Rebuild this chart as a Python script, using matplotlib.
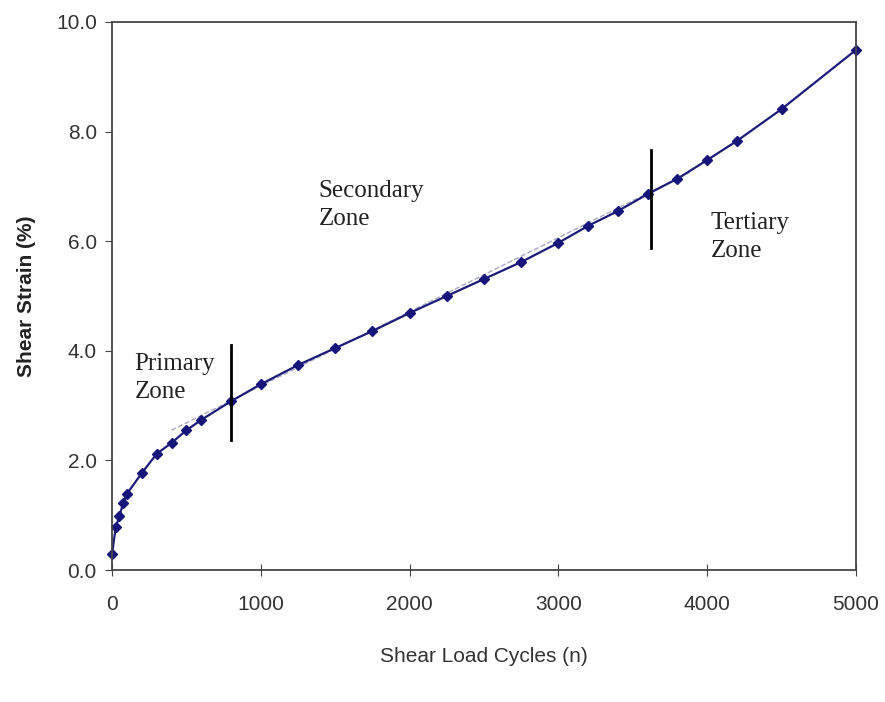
import matplotlib
matplotlib.use("Agg")
import matplotlib.pyplot as plt

# Ciclos de carga y deformacion
ciclos = [0, 25, 50, 75, 100, 200, 300, 400, 500, 600, 800, 1000, 1250, 1500,
          1750, 2000, 2250, 2500, 2750, 3000, 3200, 3400, 3600, 3800, 4000,
          4200, 4500, 5000]
deformacion = [0.30, 0.78, 0.99, 1.22, 1.39, 1.77, 2.12, 2.32, 2.55, 2.74,
               3.08, 3.39, 3.74, 4.05, 4.36, 4.69, 5.00, 5.31, 5.62, 5.97,
               6.28, 6.55, 6.86, 7.14, 7.48, 7.83, 8.41, 9.49]

# Tendencia de la zona secundaria (linea discontinua)
tendencia_x = [400, 3900]
tendencia_y = [2.55, 7.28]

# Limites entre zonas
limite_x = [800, 3620]
limite_ymin = [2.37, 5.88]
limite_ymax = [4.10, 7.66]

zonas = ["Primary\nZone", "Secondary\nZone", "Tertiary\nZone"]
zonas_x = [150, 1390, 4025]
zonas_y = [3.5, 6.66, 6.08]

fig = plt.figure(figsize=(8.85, 7.02), dpi=100)
ax = fig.add_axes([0.1266, 0.188, 0.8406, 0.7807])

ax.plot(tendencia_x, tendencia_y, color="#a8a8c4", lw=1, ls="--")
ax.plot(ciclos, deformacion, color="#1c1c78", lw=1.6, marker="D", ms=5,
        mfc="#15157a", mec="#15157a", clip_on=False)

for x, y0, y1 in zip(limite_x, limite_ymin, limite_ymax):
    ax.plot([x, x], [y0, y1], color="black", lw=2)

for t, x, y in zip(zonas, zonas_x, zonas_y):
    ax.text(x, y, t, family="Liberation Serif", fontsize=18, color="#222222",
            va="center", ha="left", linespacing=1.35)

ax.set_xlim(0, 5000)
ax.set_ylim(0, 10)
ax.set_xticks([0, 1000, 2000, 3000, 4000, 5000])
ax.set_yticks([0, 2, 4, 6, 8, 10])
ax.set_yticklabels([f"{v:.1f}" for v in [0, 2, 4, 6, 8, 10]])

for s in ax.spines.values():
    s.set_color("#444444")
    s.set_linewidth(1.3)

ax.tick_params(axis="x", direction="inout", length=8, pad=14, labelsize=15,
               colors="#444444", labelcolor="#333333")
ax.tick_params(axis="y", direction="out", length=5, pad=6, labelsize=15,
               colors="#444444", labelcolor="#333333")
for lbl in ax.get_xticklabels() + ax.get_yticklabels():
    lbl.set_family("Liberation Sans")

ax.set_xlabel("Shear Load Cycles (n)", family="Liberation Sans", fontsize=15,
              color="#333333", labelpad=24)
ax.set_ylabel("Shear Strain (%)", family="Liberation Sans", fontsize=15,
              color="#222222", labelpad=14, fontweight="bold")

fig.savefig("out.png", dpi=100)
